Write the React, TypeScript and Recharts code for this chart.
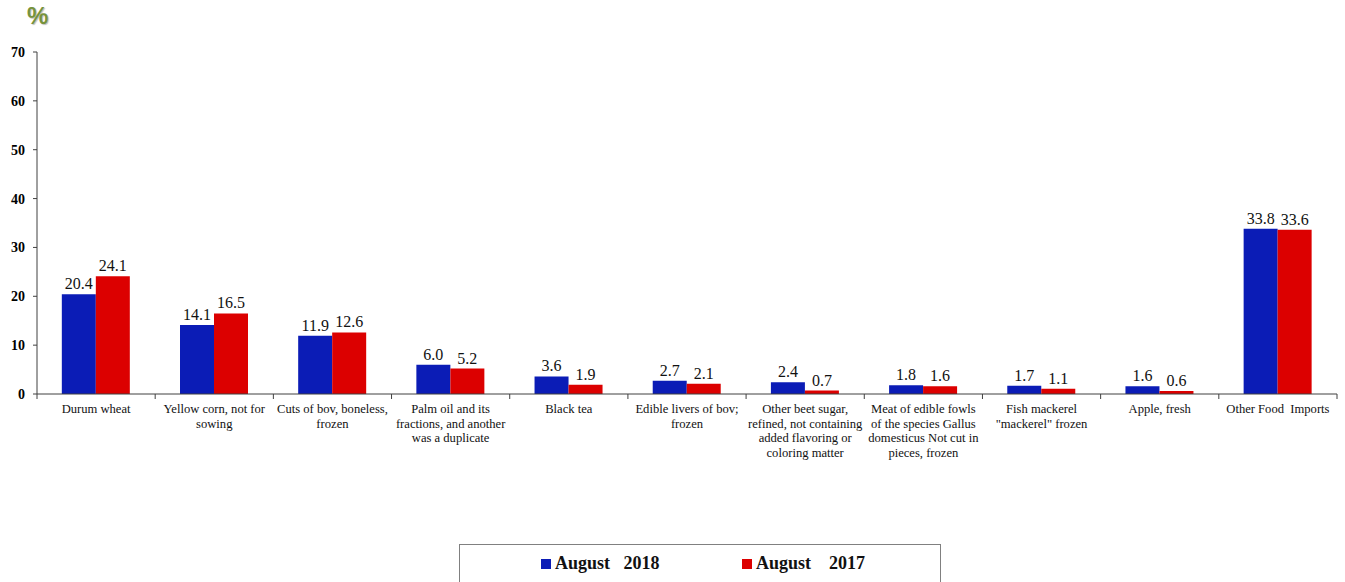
// Top food imports share — August 2018 vs August 2017 (grouped bars).
import { BarChart, Bar, XAxis, YAxis, LabelList } from "recharts";

const CATEGORIES = [
  "Durum wheat",
  "Yellow corn, not for\nsowing",
  "Cuts of bov, boneless,\nfrozen",
  "Palm oil and its\nfractions, and another\nwas a duplicate",
  "Black tea",
  "Edible livers of bov;\nfrozen",
  "Other beet sugar,\nrefined, not containing\nadded flavoring or\ncoloring matter",
  "Meat of edible fowls\nof the species Gallus\ndomesticus Not cut in\npieces, frozen",
  "Fish mackerel\n\"mackerel\" frozen",
  "Apple, fresh",
  "Other Food  Imports",
];
const AUG_2018 = [20.4, 14.1, 11.9, 6.0, 3.6, 2.7, 2.4, 1.8, 1.7, 1.6, 33.8];
const AUG_2017 = [24.1, 16.5, 12.6, 5.2, 1.9, 2.1, 0.7, 1.6, 1.1, 0.6, 33.6];
const Y_TICKS = [0, 10, 20, 30, 40, 50, 60, 70];

const BLUE = "#0b1cb6";
const RED = "#dc0000";
const AXIS = "#404040";
const SERIF = "'Liberation Serif', 'Times New Roman', serif";

const W = 1345;
const H = 582;
const MARGIN = { top: 52, right: 8, bottom: 0, left: 0 };
const Y_W = 37;
const PLOT_W = W - MARGIN.left - MARGIN.right - Y_W;

const data = CATEGORIES.map((name, i) => ({ name, a: AUG_2018[i], b: AUG_2017[i] }));

function CategoryTick(props: any) {
  const { x, y, payload, index } = props;
  const bw = PLOT_W / CATEGORIES.length;
  const lines = String(payload.value).split("\n");
  return (
    <g>
      {index === 0 && <line x1={x - bw / 2} x2={x - bw / 2} y1={y} y2={y + 5} stroke={AXIS} />}
      <line x1={x + bw / 2} x2={x + bw / 2} y1={y} y2={y + 5} stroke={AXIS} />
      <text x={x} y={y} textAnchor="middle" fontFamily={SERIF} fontSize={12.6} fill="#111">
        {lines.map((l, i) => (
          <tspan key={i} x={x} dy={i === 0 ? 19 : 14.6} style={{ whiteSpace: "pre" }}>
            {l}
          </tspan>
        ))}
      </text>
    </g>
  );
}

const fmt = (v: any) => Number(v).toFixed(1);

export default function App() {
  return (
    <div style={{ position: "fixed", left: 0, top: 0, width: W, height: H, background: "#fff" }}>
      <div
        style={{
          position: "absolute", left: 27, top: 2, fontFamily: "'Liberation Sans', Arial, sans-serif",
          fontWeight: 700, fontSize: 24, color: "#77933c", textShadow: "1px 1px 1px rgba(0,0,0,0.25)",
        }}
      >
        %
      </div>
      <BarChart width={W} height={H} data={data} margin={MARGIN} barCategoryGap="21%" barGap={0}>
        <XAxis
          dataKey="name"
          interval={0}
          height={188}
          tickSize={0}
          tickMargin={0}
          tickLine={false}
          axisLine={{ stroke: AXIS }}
          tick={<CategoryTick />}
        />
        <YAxis
          width={Y_W}
          domain={[0, 70]}
          ticks={Y_TICKS}
          interval={0}
          tickSize={4}
          tickMargin={8}
          axisLine={{ stroke: AXIS }}
          tickLine={{ stroke: AXIS }}
          tick={{ fontFamily: SERIF, fontSize: 14, fontWeight: 700, fill: "#000" }}
        />
        <Bar dataKey="a" name="August   2018" fill={BLUE} isAnimationActive={false}>
          <LabelList dataKey="a" position="top" offset={5} formatter={fmt}
            style={{ fontFamily: SERIF, fontSize: 16, fill: "#111" }} />
        </Bar>
        <Bar dataKey="b" name="August    2017" fill={RED} isAnimationActive={false}>
          <LabelList dataKey="b" position="top" offset={5} formatter={fmt}
            style={{ fontFamily: SERIF, fontSize: 16, fill: "#111" }} />
        </Bar>
      </BarChart>
      <div
        style={{
          position: "absolute", left: 459, top: 544, width: 482, height: 60,
          border: "1px solid #808080", boxSizing: "border-box",
        }}
      />
      {[
        { label: "August   2018", color: BLUE, left: 541 },
        { label: "August    2017", color: RED, left: 742 },
      ].map((it) => (
        <div
          key={it.label}
          style={{
            position: "absolute", left: it.left, top: 553, display: "flex", alignItems: "center",
            fontFamily: SERIF, fontWeight: 700, fontSize: 18, color: "#111", whiteSpace: "pre",
          }}
        >
          <span style={{ width: 10, height: 10, background: it.color, marginRight: 4, display: "inline-block" }} />
          {it.label}
        </div>
      ))}
    </div>
  );
}
